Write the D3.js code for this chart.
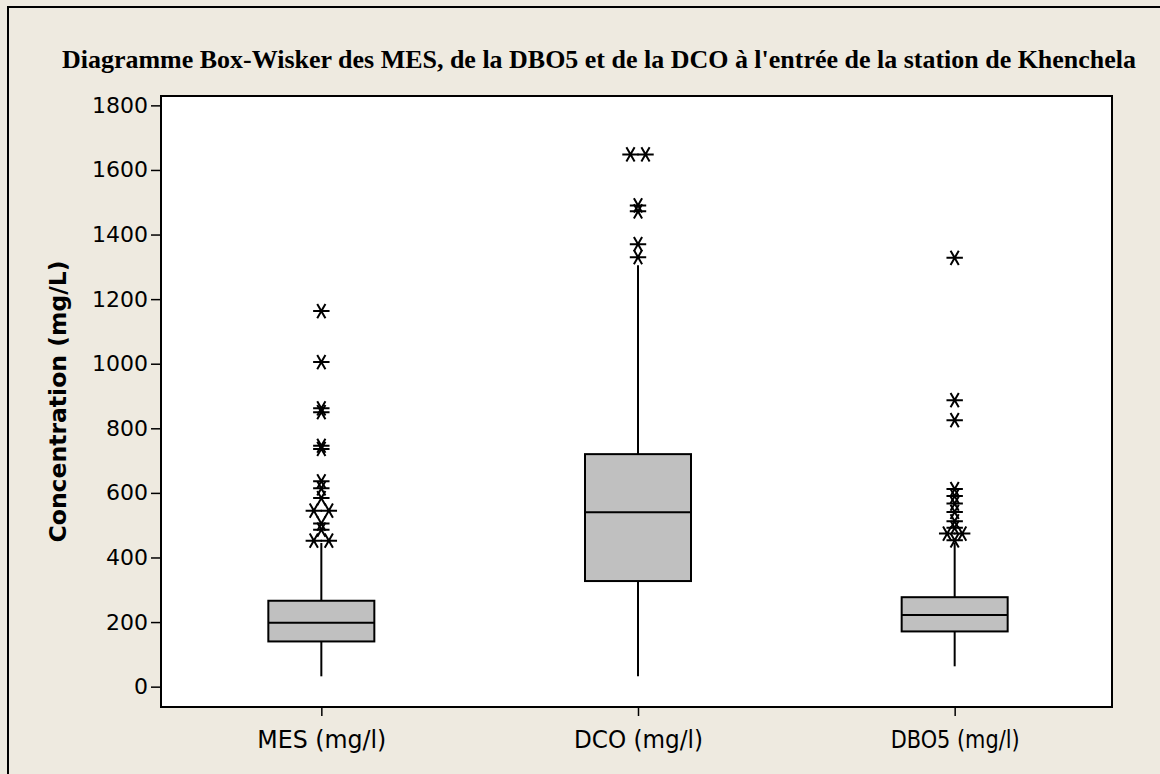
<!DOCTYPE html>
<html>
<head>
<meta charset="utf-8">
<script src="https://cdn.jsdelivr.net/npm/d3@7/dist/d3.min.js"></script>
<style>
  body { margin: 0; background: #eeeae0; }
  svg { display: block; }
</style>
</head>
<body>
<svg id="chart" width="1160" height="774"></svg>
<script>
// box-whisker values (mg/L)
const categories = ['MES (mg/l)', 'DCO (mg/l)', 'DBO5 (mg/l)']
const whiskerLow = [32, 32, 63]
const q1 = [140, 327, 171]
const median = [198, 540, 222]
const q3 = [266, 720, 277]
const whiskerHigh = [445, 1305, 445]
const outliersMES = [1163, 1005, 862, 850, 746, 736, 636, 614, 584, 545, 545, 505, 486, 452, 452]
const outliersDCO = [1648, 1648, 1490, 1472, 1370, 1330]
const outliersDBO5 = [1328, 887, 825, 612, 590, 567, 541, 512, 492, 474, 474, 453]
const yTicks = [0, 200, 400, 600, 800, 1000, 1200, 1400, 1600, 1800]

const titleText = "Diagramme Box-Wisker des MES, de la DBO5 et de la DCO à l'entrée de la station de Khenchela"
const yLabel = 'Concentration (mg/L)'

const plot = { left: 161, right: 1112, top: 96, bottom: 707 }
const boxWidth = 106

const svg = d3.select('#chart')

svg.append('rect')
    .attr('width', 1160).attr('height', 774)
    .attr('fill', '#eeeae0')

// outer frame (only top and left edges are visible)
svg.append('path')
    .attr('d', 'M8,774 L8,7 L1160,7')
    .attr('fill', 'none')
    .attr('stroke', '#000')
    .attr('stroke-width', 2)

const x = d3.scalePoint()
    .domain(categories)
    .range([163, 1113])
    .padding(0.5)

const y = d3.scaleLinear()
    .domain([-63, 1829])
    .range([plot.bottom, plot.top])

svg.append('rect')
    .attr('x', plot.left).attr('y', plot.top)
    .attr('width', plot.right - plot.left)
    .attr('height', plot.bottom - plot.top)
    .attr('fill', '#fff')

// title
svg.append('text')
    .attr('x', 599).attr('y', 68)
    .attr('text-anchor', 'middle')
    .attr('textLength', 1074)
    .attr('lengthAdjust', 'spacingAndGlyphs')
    .style('font-family', '"Liberation Serif", serif')
    .style('font-weight', 'bold')
    .style('font-size', '26px')
    .text(titleText)

// y axis
const yAxis = svg.append('g')
    .attr('transform', `translate(${plot.left},0)`)
    .call(d3.axisLeft(y).tickValues(yTicks).tickFormat(d3.format('d')).tickSize(10).tickPadding(3))
yAxis.select('.domain').remove()
yAxis.selectAll('line').attr('stroke', '#000').attr('stroke-width', 1.5)
yAxis.selectAll('text')
    .style('font-family', '"DejaVu Sans", Verdana, sans-serif')
    .style('font-size', '22px')
    .attr('fill', '#000')

// x axis
const xAxis = svg.append('g')
    .attr('transform', `translate(0,${plot.bottom})`)
    .call(d3.axisBottom(x).tickSize(9).tickPadding(8))
xAxis.select('.domain').remove()
xAxis.selectAll('line').attr('stroke', '#000').attr('stroke-width', 1.5)
xAxis.selectAll('text')
    .attr('dy', '0.95em')
    .attr('textLength', 129)
    .attr('lengthAdjust', 'spacingAndGlyphs')
    .style('font-family', '"DejaVu Sans Condensed", "DejaVu Sans", sans-serif')
    .style('font-size', '25px')
    .attr('fill', '#000')

// y label
svg.append('text')
    .attr('transform', `translate(66,${(plot.top + plot.bottom) / 2}) rotate(-90)`)
    .attr('text-anchor', 'middle')
    .attr('textLength', 282)
    .attr('lengthAdjust', 'spacingAndGlyphs')
    .style('font-family', '"DejaVu Sans", Verdana, sans-serif')
    .style('font-weight', 'bold')
    .style('font-size', '23px')
    .text(yLabel)

const boxes = categories.map((c, i) => ({
    cat: c, lo: whiskerLow[i], q1: q1[i], med: median[i], q3: q3[i], hi: whiskerHigh[i]
}))

const g = svg.append('g')

// whiskers
g.selectAll('line.lower')
    .data(boxes)
    .join('line')
    .attr('class', 'lower')
    .attr('x1', d => x(d.cat)).attr('x2', d => x(d.cat))
    .attr('y1', d => y(d.lo)).attr('y2', d => y(d.q1))
    .attr('stroke', '#000').attr('stroke-width', 2)

g.selectAll('line.upper')
    .data(boxes)
    .join('line')
    .attr('class', 'upper')
    .attr('x1', d => x(d.cat)).attr('x2', d => x(d.cat))
    .attr('y1', d => y(d.q3)).attr('y2', d => y(d.hi))
    .attr('stroke', '#000').attr('stroke-width', 2)

g.selectAll('rect.box')
    .data(boxes)
    .join('rect')
    .attr('class', 'box')
    .attr('x', d => x(d.cat) - boxWidth / 2)
    .attr('width', boxWidth)
    .attr('y', d => y(d.q3))
    .attr('height', d => y(d.q1) - y(d.q3))
    .attr('fill', '#c0c0c0')
    .attr('stroke', '#000')
    .attr('stroke-width', 2)

g.selectAll('line.median')
    .data(boxes)
    .join('line')
    .attr('class', 'median')
    .attr('x1', d => x(d.cat) - boxWidth / 2).attr('x2', d => x(d.cat) + boxWidth / 2)
    .attr('y1', d => y(d.med)).attr('y2', d => y(d.med))
    .attr('stroke', '#000').attr('stroke-width', 2)

// outliers, tied values are put side by side
const outlierSets = [outliersMES, outliersDCO, outliersDBO5]
const points = []
outlierSets.forEach((vals, i) => {
    const counts = d3.rollup(vals, v => v.length, v => v)
    counts.forEach((n, v) => {
        for (let k = 0; k < n; k++) {
            points.push({ cat: categories[i], value: v, off: (k - (n - 1) / 2) * 15 })
        }
    })
})

const star = d3.symbol().type(d3.symbolAsterisk).size(190)

g.selectAll('path.out')
    .data(points)
    .join('path')
    .attr('class', 'out')
    .attr('d', star)
    .attr('transform', d => `translate(${x(d.cat) + d.off},${y(d.value)}) rotate(90)`)
    .attr('fill', 'none')
    .attr('stroke', '#000')
    .attr('stroke-width', 2)

// plot frame
svg.append('rect')
    .attr('x', plot.left).attr('y', plot.top)
    .attr('width', plot.right - plot.left)
    .attr('height', plot.bottom - plot.top)
    .attr('fill', 'none')
    .attr('stroke', '#000')
    .attr('stroke-width', 2)
</script>
</body>
</html>
